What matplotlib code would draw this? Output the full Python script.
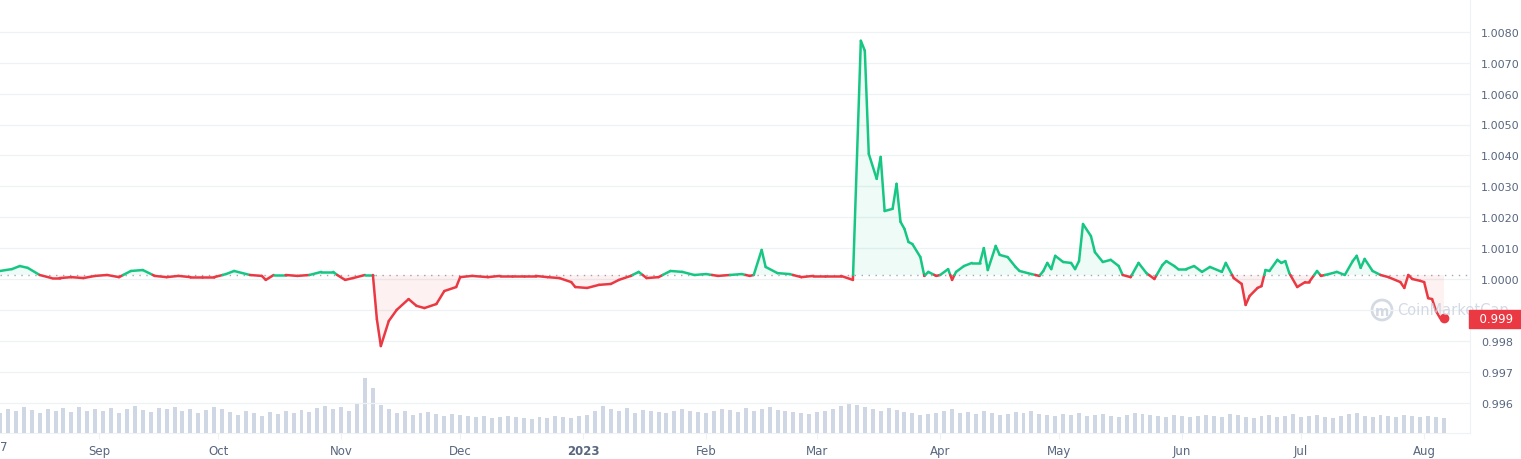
import matplotlib
matplotlib.use("Agg")
import matplotlib.pyplot as plt
from matplotlib.patches import Ellipse
import numpy as np
import pandas as pd
import matplotlib.dates as mdates

start = pd.Timestamp("2022-08-07")
day_offsets = [0,3,5,7,10,13,15,18,21,24,27,30,33,36,39,42,45,48,51,54,57,59,63,66,67,69,72,75,78,81,84,85,87,89,92,94,95,96,98,100,103,105,107,110,112,115,116,119,123,126,129,132,135,138,141,144,145,148,151,154,156,159,161,163,166,169,172,175,178,181,184,187,189,190,192,193,196,199,202,205,208,212,215,217,218,219,221,222,223,225,226,227,228,229,230,232,233,234,236,237,239,240,241,243,245,247,248,249,251,252,254,256,257,260,262,263,264,265,266,268,270,271,272,273,275,276,278,280,282,283,285,287,289,291,293,294,296,297,299,301,303,305,308,309,311,313,314,315,317,318,319,320,322,323,324,325,327,329,330,332,333,335,337,339,341,342,343,344,346,348,350,353,354,355,356,358,359,360,361,362,363,364]
prices = [1.00026,1.00032,1.00042,1.00036,1.00013,1.00003,1.00003,1.00006,1.00003,1.00010,1.00013,1.00006,1.00026,1.00029,1.00010,1.00006,1.00010,1.00006,1.00006,1.00006,1.00016,1.00026,1.00013,1.00010,0.99997,1.00013,1.00013,1.00010,1.00013,1.00023,1.00023,1.00013,0.99997,1.00003,1.00013,1.00013,0.99870,0.99783,0.99864,0.99900,0.99935,0.99913,0.99906,0.99919,0.99961,0.99974,1.00006,1.00010,1.00006,1.00010,1.00010,1.00010,1.00010,1.00006,1.00003,0.99990,0.99974,0.99971,0.99981,0.99984,0.99997,1.00010,1.00023,1.00003,1.00006,1.00026,1.00023,1.00013,1.00016,1.00010,1.00013,1.00016,1.00010,1.00013,1.00094,1.00039,1.00019,1.00016,1.00006,1.00010,1.00010,1.00010,0.99997,1.00771,1.00739,1.00405,1.00324,1.00395,1.00220,1.00227,1.00308,1.00185,1.00162,1.00120,1.00113,1.00071,1.00010,1.00023,1.00010,1.00013,1.00032,0.99997,1.00023,1.00042,1.00052,1.00052,1.00100,1.00029,1.00107,1.00078,1.00071,1.00039,1.00026,1.00016,1.00010,1.00026,1.00052,1.00032,1.00075,1.00055,1.00052,1.00032,1.00058,1.00178,1.00139,1.00087,1.00055,1.00062,1.00042,1.00013,1.00006,1.00052,1.00019,1.00000,1.00045,1.00058,1.00042,1.00032,1.00032,1.00042,1.00023,1.00039,1.00023,1.00052,1.00003,0.99984,0.99916,0.99945,0.99971,0.99977,1.00029,1.00026,1.00062,1.00052,1.00058,1.00019,0.99974,0.99990,0.99990,1.00026,1.00010,1.00016,1.00023,1.00013,1.00058,1.00075,1.00036,1.00065,1.00026,1.00013,1.00006,0.99990,0.99971,1.00013,1.00000,0.99994,0.99990,0.99938,0.99935,0.99896,0.99874,0.99874]
baseline = 1.00013

volumes = [20,24,22,26,23,20,24,22,25,21,26,22,24,
           22,25,20,24,27,23,21,25,24,26,22,24,20,23,26,
           24,21,18,22,20,17,21,19,22,20,23,21,25,27,24,
           26,22,30,55,45,28,24,20,22,18,20,21,19,17,19,
           18,17,16,17,15,16,17,16,15,14,16,15,17,16,15,
           17,18,22,27,24,22,25,20,23,22,21,20,22,24,22,21,
           20,22,24,23,21,25,22,24,26,23,22,21,20,19,
           21,22,24,27,30,28,26,24,22,25,23,21,20,18,19,20,
           22,24,20,21,19,22,20,18,19,21,20,22,19,18,17,
           19,18,20,17,18,19,17,16,18,20,19,18,17,16,18,17,
           16,17,18,17,16,19,18,16,15,17,18,16,17,19,16,
           17,18,16,15,17,19,20,17,16,18,17,16,18,17,16,
           17,16,15]
vol_step_days = 2

ytick_vals = [0.996,0.997,0.998,0.999,1.0,1.001,1.002,1.003,1.004,1.005,1.006,1.007,1.008]
ytick_labels = ["0.996","0.997","0.998","","1.0000","1.0010","1.0020","1.0030","1.0040","1.0050","1.0060","1.0070","1.0080"]
month_ticks = ["2022-09-01","2022-10-01","2022-11-01","2022-12-01","2023-01-01","2023-02-01","2023-03-01","2023-04-01","2023-05-01","2023-06-01","2023-07-01","2023-08-01"]
month_labels = ["Sep","Oct","Nov","Dec","2023","Feb","Mar","Apr","May","Jun","Jul","Aug"]
last_label = "0.999"

GREEN = "#16c784"; RED = "#ea3943"; GREY = "#58667e"

dates = np.array([start + pd.Timedelta(days=d) for d in day_offsets])
x = mdates.date2num(dates)
y = np.array(prices)

W, H = 1521, 460
fig = plt.figure(figsize=(W/100, H/100), dpi=100)
axL, axB, axR, axT = 0/W, (H-434)/H, 1470/W, 1.0
ax = fig.add_axes([axL, axB, axR-axL, axT-axB])
axv = fig.add_axes([axL, axB, axR-axL, axT-axB], sharex=ax)
axv.set_zorder(0); ax.set_zorder(1); ax.patch.set_alpha(0)

vdates = [start + pd.Timedelta(days=i*vol_step_days) for i in range(len(volumes))]
axv.bar(mdates.date2num(vdates), volumes, width=1.0, color="#cfd6e4", align="center")
axv.set_ylim(0, 434)
axv.axis("off")

ppd = 0.001/30.9
ax.set_ylim(1.0 - (434-280)*ppd, 1.0 + 280*ppd)
x0 = mdates.date2num(start)
pxday = 3.967
ax.set_xlim(x0, x0 + 1470/pxday)

for v in ytick_vals:
    ax.axhline(v, color="#eff2f5", lw=0.9, zorder=0)
ax.axhline(baseline, color="#a0a7b4", lw=1.0, ls=(0,(1,4)), zorder=1)

ax.fill_between(x, y, baseline, where=y>=baseline, interpolate=True, color=GREEN, alpha=0.07, lw=0)
ax.fill_between(x, y, baseline, where=y<=baseline, interpolate=True, color=RED, alpha=0.07, lw=0)

for i in range(len(x)-1):
    xa, xb, ya, yb = x[i], x[i+1], y[i], y[i+1]
    sa, sb = ya >= baseline, yb >= baseline
    if sa == sb:
        ax.plot([xa, xb], [ya, yb], color=GREEN if sa else RED, lw=1.8, solid_capstyle="round", zorder=3)
    else:
        t = (baseline-ya)/(yb-ya)
        xc = xa + t*(xb-xa)
        ax.plot([xa, xc], [ya, baseline], color=GREEN if sa else RED, lw=1.8, solid_capstyle="round", zorder=3)
        ax.plot([xc, xb], [baseline, yb], color=GREEN if sb else RED, lw=1.8, solid_capstyle="round", zorder=3)
ax.plot([x[-1]], [y[-1]], "o", color=RED, ms=6, zorder=4)

for s in ["top","left"]:
    ax.spines[s].set_visible(False)
ax.spines["right"].set_color("#eff2f5")
ax.spines["bottom"].set_color("#eff2f5")
ax.yaxis.tick_right()
ax.set_yticks(ytick_vals)
ax.set_yticklabels(ytick_labels)
ax.tick_params(axis="y", length=0, pad=8, labelsize=8, labelcolor=GREY)
mt = mdates.date2num(pd.to_datetime(month_ticks))
ax.set_xticks(mt)
ax.set_xticklabels(month_labels)
ax.tick_params(axis="x", length=4, color="#eff2f5", pad=4, labelsize=8.5, labelcolor=GREY)
for lbl in ax.get_xticklabels():
    if lbl.get_text() == "2023":
        lbl.set_fontweight("bold")
fig.text(0/W, 1-448/H, "7", fontsize=8.5, color=GREY, va="center", ha="left")

# watermark: logo ring drawn as a shape plus real text
fig.add_artist(Ellipse((1382/W, 1-311/H), 20/W, 20/H, transform=fig.transFigure, fill=False, ec="#c9d1de", lw=2, alpha=0.8))
fig.text(1382/W, 1-312/H, "m", fontsize=10, color="#c9d1de", va="center", ha="center", alpha=0.8, fontweight="bold")
fig.text(1397/W, 1-311/H, "CoinMarketCap", fontsize=10.5, color="#c9d1de", va="center", ha="left", alpha=0.8)

fig.text(1472/W, 1-320/H, "  " + last_label + "   ", fontsize=8.5, color="white", va="center", ha="left",
         bbox=dict(boxstyle="square,pad=0.25", fc=RED, ec=RED))

fig.savefig("out.png", dpi=100)
